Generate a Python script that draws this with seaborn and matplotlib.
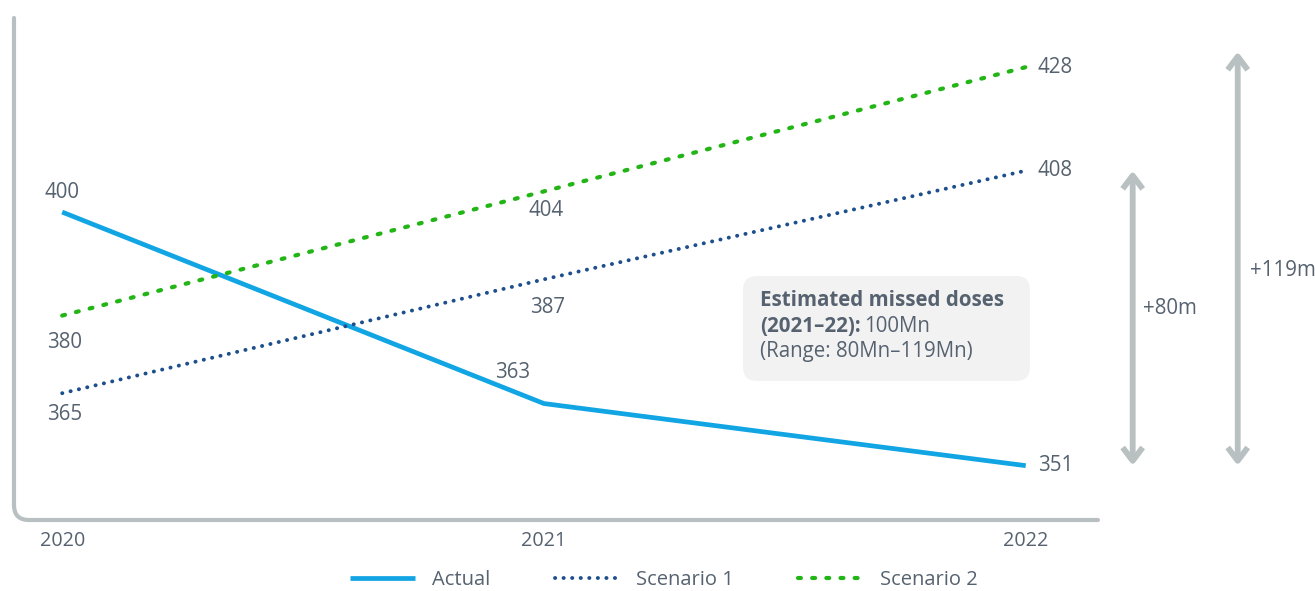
import numpy as np
import pandas as pd
import matplotlib
matplotlib.use("Agg")
import matplotlib.pyplot as plt
import seaborn as sns
from matplotlib.path import Path as MPath
from matplotlib.patches import PathPatch, FancyBboxPatch
from matplotlib.transforms import IdentityTransform

# data
years = [2020, 2021, 2022]
actual = [400, 363, 351]
scenario1 = [365, 387, 408]
scenario2 = [380, 404, 428]

W, H = 1315, 591
GREY = "#b9c0c1"
TXT = "#566270"
C_ACT = "#12a5e3"
C_S1 = "#1d4f8c"
C_S2 = "#22b515"
FS = 14.8

sns.set_theme(style="white")
plt.rcParams["font.family"] = ["Open Sans", "DejaVu Sans"]

fig = plt.figure(figsize=(W / 100, H / 100), dpi=100)
ax = fig.add_axes([14 / W, 1 - 520 / H, (1098 - 14) / W, (520 - 18) / H])

df = pd.DataFrame({"year": years * 3,
                   "value": actual + scenario1 + scenario2,
                   "series": ["Actual"] * 3 + ["Scenario 1"] * 3 + ["Scenario 2"] * 3})

sns.lineplot(data=df[df.series == "Actual"], x="year", y="value", ax=ax,
             color=C_ACT, linewidth=3.4, label="Actual")
sns.lineplot(data=df[df.series == "Scenario 1"], x="year", y="value", ax=ax,
             color=C_S1, linewidth=2.8, label="Scenario 1")
sns.lineplot(data=df[df.series == "Scenario 2"], x="year", y="value", ax=ax,
             color=C_S2, linewidth=3.0, label="Scenario 2")

l_act, l_s1, l_s2 = ax.lines[:3]
l_act.set_solid_capstyle("butt")
l_s1.set_linestyle((0, (0.05, 2.15)))
l_s1.set_dash_capstyle("round")
l_s2.set_linestyle((0, (0.7, 2.7)))
l_s2.set_dash_capstyle("round")

ax.set_xlim(2019.9, 2022.15)
ax.set_ylim(340.5, 437.5)
ax.set_xlabel("")
ax.set_ylabel("")
ax.set_yticks([])
ax.set_xticks(years)
ax.set_xticklabels([str(y) for y in years], fontsize=14.2, color=TXT)
ax.tick_params(axis="x", length=0, pad=8)
for s in ax.spines.values():
    s.set_visible(False)
ax.get_legend().remove()

# axis line with rounded corner (pixel coords)
def px(x, y):
    return (x, H - y)

verts = [px(14, 18), px(14, 505), px(14, 520), px(29, 520), px(1098, 520)]
codes = [MPath.MOVETO, MPath.LINETO, MPath.CURVE3, MPath.CURVE3, MPath.LINETO]
fig.patches.append(PathPatch(MPath(verts, codes), transform=IdentityTransform(),
                             facecolor="none", edgecolor=GREY, lw=3, capstyle="round",
                             figure=fig))

# value labels
label_off = {
    ("Actual", 0): (0, 20, "center"), ("Actual", 1): (-31, 31, "center"), ("Actual", 2): (12, 0, "left"),
    ("Scenario 1", 0): (2, -21, "center"), ("Scenario 1", 1): (4, -28, "center"), ("Scenario 1", 2): (12, 0, "left"),
    ("Scenario 2", 0): (2, -27, "center"), ("Scenario 2", 1): (2, -19, "center"), ("Scenario 2", 2): (12, 0, "left"),
}
for name, vals in [("Actual", actual), ("Scenario 1", scenario1), ("Scenario 2", scenario2)]:
    for i, (yr, v) in enumerate(zip(years, vals)):
        dx, dy, ha = label_off[(name, i)]
        ax.annotate(str(v), (yr, v), xytext=(dx, dy), textcoords="offset pixels",
                    ha=ha, va="center", fontsize=FS, color=TXT, annotation_clip=False)

# range arrows
for xa, top, lab, lx, ly in [(2022.222, 408, "+80m", 1143, 308), (2022.44, 431, "+119m", 1250, 270)]:
    ax.annotate("", xy=(xa, 351), xytext=(xa, top), annotation_clip=False,
                arrowprops=dict(arrowstyle="<->,head_length=0.8,head_width=0.6",
                                color=GREY, lw=4.2, shrinkA=0, shrinkB=0,
                                capstyle="butt"))
    fig.text(lx / W, 1 - ly / H, lab, fontsize=FS, color=TXT, ha="left", va="center")

# info box
box = FancyBboxPatch((743, H - 381), 287, 105, boxstyle="round,pad=0,rounding_size=14",
                     transform=IdentityTransform(), facecolor="#f2f2f2", edgecolor="none",
                     figure=fig)
fig.patches.append(box)
fig.text(760 / W, 1 - 300 / H, "Estimated missed doses", fontsize=FS,
         fontweight="bold", color=TXT, va="center", ha="left")
t2 = fig.text(760 / W, 1 - 326 / H, "(2021–22):", fontsize=FS,
              fontweight="bold", color=TXT, va="center", ha="left")
fig.canvas.draw()
bb = t2.get_window_extent()
fig.text((bb.x1 + 4) / W, 1 - 326 / H, "100Mn", fontsize=FS, color=TXT,
         va="center", ha="left")
fig.text(760 / W, 1 - 352 / H, "(Range: 80Mn–119Mn)", fontsize=FS, color=TXT,
         va="center", ha="left")

# legend
handles = [l_act, l_s1, l_s2]
fig.legend(handles, ["Actual", "Scenario 1", "Scenario 2"], loc="center",
           bbox_to_anchor=(0.505, 1 - 580 / H), ncol=3, frameon=False,
           fontsize=14.5, handlelength=3.2, handletextpad=0.85, columnspacing=3.2,
           labelcolor=TXT)

fig.savefig("out.png", dpi=100)
